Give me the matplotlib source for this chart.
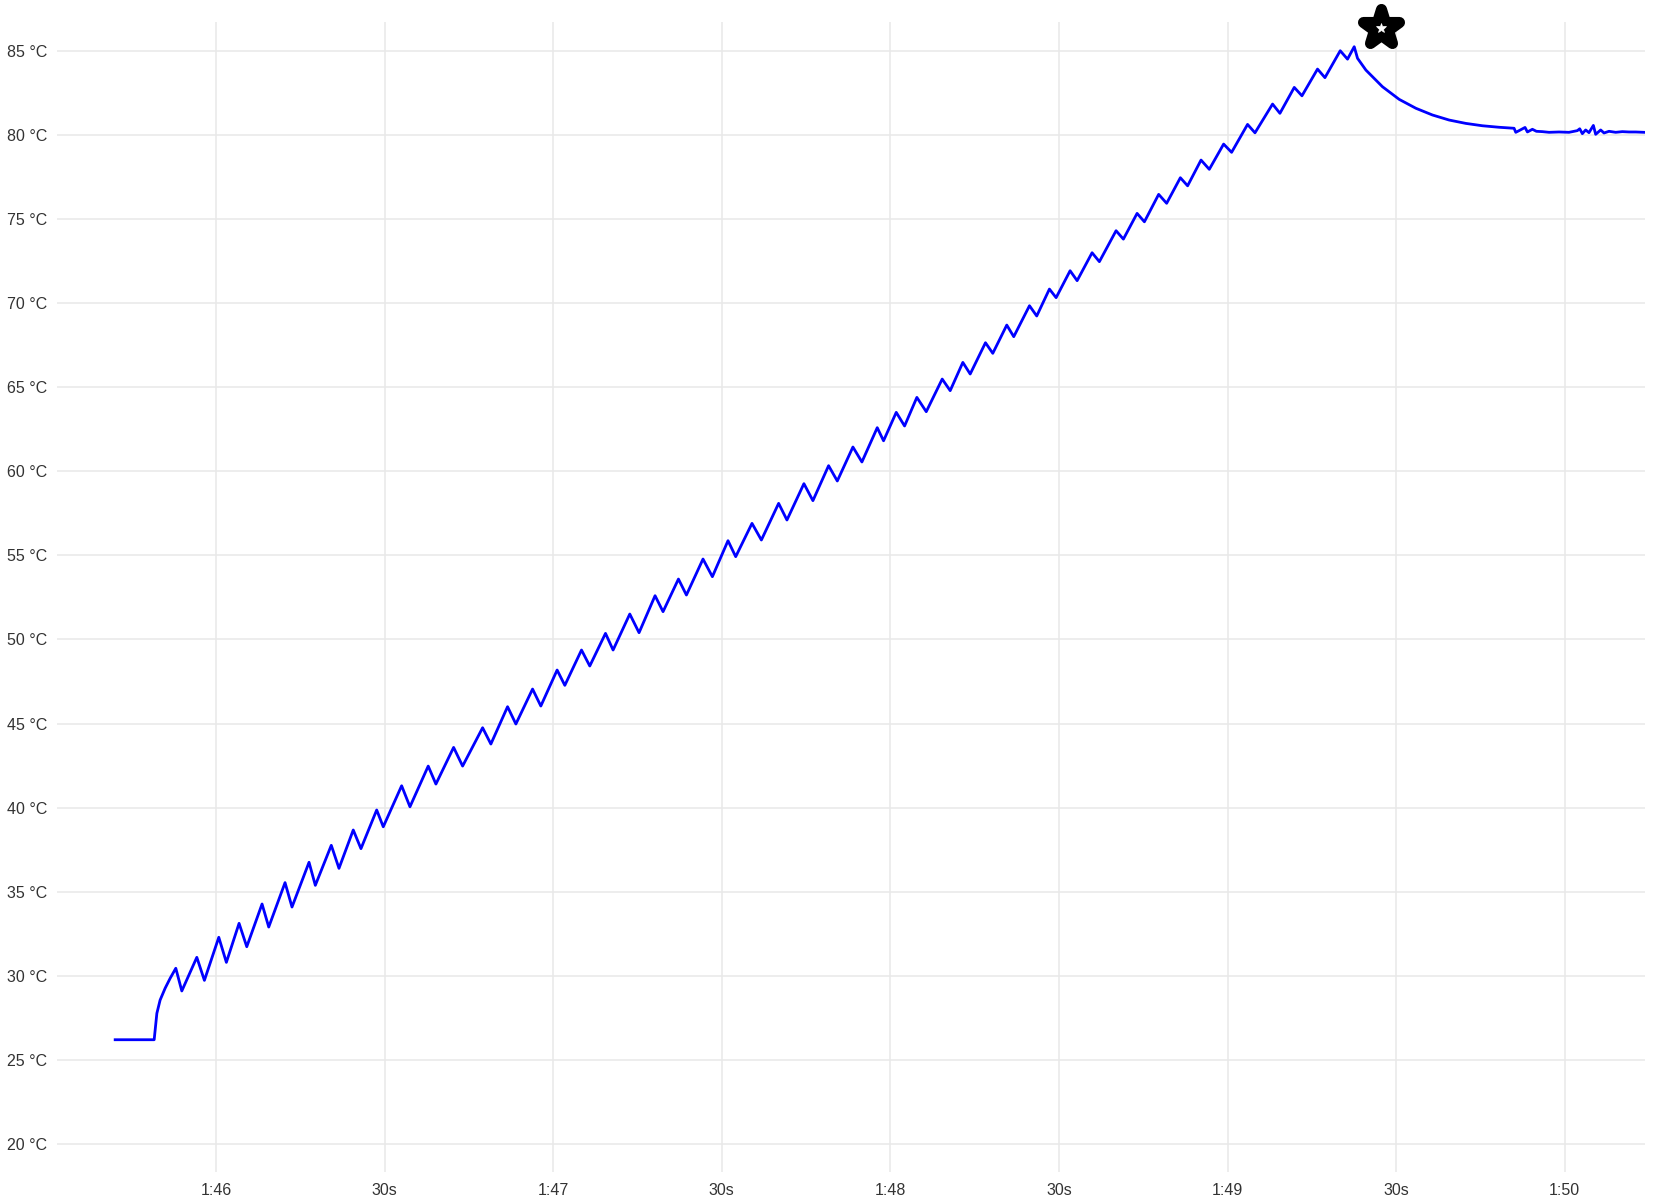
import matplotlib.pyplot as plt
from matplotlib.markers import MarkerStyle

# time in seconds after 1:45:00, temperature in degC
t_sec = [42.04, 48.98, 49.46, 50.04, 50.93, 51.82,
         52.83, 53.90, 56.57, 57.92, 60.48, 61.83, 64.09, 65.46, 68.18, 69.37,
         72.27, 73.51, 76.54, 77.66, 80.50, 81.87, 84.41, 85.78, 88.58, 89.75,
         93.02, 94.50, 97.75, 99.12, 102.27, 103.87, 107.43, 108.90, 111.87, 113.35,
         116.32, 117.79, 120.69, 122.06, 125.03, 126.50, 129.30, 130.65, 133.62, 135.27,
         138.12, 139.54, 142.28, 143.70, 146.65, 148.32, 151.10, 152.47, 155.37, 157.04,
         160.11, 161.59, 164.61, 166.21, 169.00, 170.55, 173.33, 174.93, 177.66, 178.78,
         181.04, 182.52, 184.71, 186.38, 189.22, 190.64, 192.89, 194.20, 196.92, 198.22,
         200.71, 201.95, 204.75, 206.04, 208.30, 209.49, 211.98, 213.23, 215.89, 217.19,
         220.16, 221.46, 223.90, 225.20, 227.74, 229.16, 231.60, 232.89, 235.28, 236.75,
         239.30, 240.72, 243.56, 244.88, 248.01, 249.32, 251.87, 253.24, 256.01, 257.33,
         260.05, 261.35, 262.54,
         263.13, 264.62, 267.57, 270.54, 273.51, 276.46, 279.43, 282.40, 285.35, 288.32, 290.99,
         291.29, 291.88, 292.94, 293.36, 294.25, 294.96, 296.03, 297.21, 298.99, 300.77,
         302.25, 302.67, 303.14, 303.73, 304.32, 305.10, 305.51, 306.40, 306.99, 307.88,
         309.07, 310.25, 311.44, 312.63, 314.11]
temp_c = [26.2, 26.2, 27.77, 28.56, 29.26, 29.85,
          30.45, 29.1, 31.1, 29.73, 32.29, 30.8, 33.12, 31.73, 34.27, 32.9,
          35.54, 34.09, 36.75, 35.38, 37.76, 36.39, 38.67, 37.56, 39.86, 38.86,
          41.3, 40.05, 42.47, 41.4, 43.58, 42.47, 44.75, 43.78, 46.0, 44.97,
          47.05, 46.04, 48.18, 47.27, 49.37, 48.42, 50.36, 49.37, 51.51, 50.4,
          52.6, 51.65, 53.59, 52.64, 54.78, 53.73, 55.87, 54.92, 56.9, 55.91,
          58.09, 57.1, 59.26, 58.25, 60.33, 59.42, 61.44, 60.55, 62.59, 61.81,
          63.5, 62.69, 64.39, 63.54, 65.48, 64.79, 66.47, 65.78, 67.64, 67.01,
          68.69, 68.0, 69.84, 69.23, 70.83, 70.32, 71.92, 71.33, 72.99, 72.46,
          74.3, 73.8, 75.33, 74.83, 76.46, 75.93, 77.45, 76.97, 78.5, 77.95,
          79.45, 78.96, 80.62, 80.12, 81.83, 81.28, 82.82, 82.32, 83.91, 83.4,
          85.0, 84.5, 85.24,
          84.55, 83.85, 82.86, 82.11, 81.58, 81.18, 80.88, 80.68, 80.54, 80.45, 80.39,
          80.15, 80.25, 80.44, 80.17, 80.33, 80.21, 80.19, 80.15, 80.17, 80.15,
          80.25, 80.36, 80.07, 80.29, 80.13, 80.56, 80.03, 80.29, 80.11, 80.21,
          80.15, 80.19, 80.17, 80.17, 80.15]

star_t = 267.28
star_temp = 86.33

y_ticks = [20, 25, 30, 35, 40, 45, 50, 55, 60, 65, 70, 75, 80, 85]
x_ticks = [60, 90, 120, 150, 180, 210, 240, 270, 300]
x_labels = ["1:46", "30s", "1:47", "30s", "1:48", "30s", "1:49", "30s", "1:50"]

plt.rcParams['font.family'] = ['Liberation Sans', 'DejaVu Sans']

fig = plt.figure(figsize=(16.54, 12.01), dpi=100)
ax = fig.add_axes([0.0345, 0.0242, 0.9601, 0.9575])

ax.plot(t_sec, temp_c, color="#0000ff", lw=2.0, solid_joinstyle="round")

# rounded black star with a small white star inside
ax.plot(star_t, star_temp, marker=MarkerStyle("*", joinstyle="round"), ms=27,
        color="black", mec="black", mew=8, clip_on=False, zorder=5)
ax.plot(star_t, star_temp + 0.05, marker="*", ms=7, color="white", mec="white",
        mew=0.5, clip_on=False, zorder=6)

ax.set_xlim(31.7, 314.3)
ax.set_ylim(18.34, 86.71)

ax.set_yticks(y_ticks)
ax.set_yticklabels([f"{v} °C" for v in y_ticks])
ax.set_xticks(x_ticks)
ax.set_xticklabels(x_labels)

ax.grid(True, color="#e8e8e8", lw=1.1)
ax.set_axisbelow(True)
for s in ax.spines.values():
    s.set_visible(False)
ax.tick_params(length=0, labelsize=11.5, labelcolor="#333333")
ax.tick_params(axis="y", pad=7)
ax.tick_params(axis="x", pad=8)

plt.savefig("out.png", dpi=100)
